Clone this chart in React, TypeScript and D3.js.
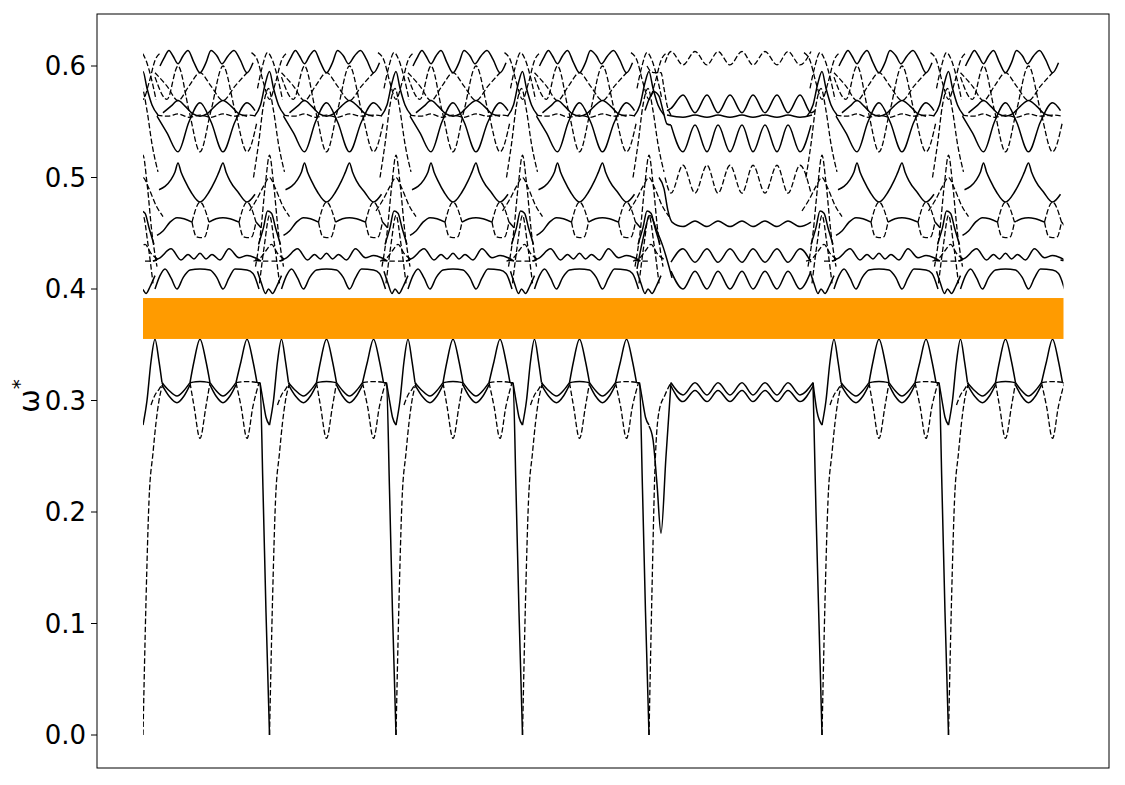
import { useEffect, useRef } from 'react';
import * as d3 from 'd3';

type Pt = [number, number];

// path segments along the wave-vector axis (same unit for every segment)
const SEG_TYPES = ['A', 'A', 'A', 'A', 'E', 'A', 'A'];
const SEG_LENGTHS = [126.5, 126.5, 126.5, 126.5, 173, 126.5, 115];

// band gap (orange)
const GAP = [0.3552, 0.3919];

const Y_TICKS = [0, 0.1, 0.2, 0.3, 0.4, 0.5, 0.6];

// repeated segment: solid strokes [offset, omega]
const A_SOLID: Pt[][] = [
  [[0, 0.278], [4, 0.3], [8, 0.335], [12, 0.355], [16, 0.335], [19, 0.316]],
  [[47, 0.316], [51, 0.335], [57, 0.355], [63, 0.335], [67, 0.316]],
  [[93, 0.316], [98, 0.335], [104, 0.355], [110, 0.335], [114, 0.316]],
  [[19, 0.316], [26, 0.309], [34, 0.304], [41, 0.309], [47, 0.316]],
  [[19, 0.314], [26, 0.304], [34, 0.298], [41, 0.304], [47, 0.314]],
  [[67, 0.316], [73, 0.309], [80, 0.304], [87, 0.309], [93, 0.316]],
  [[67, 0.314], [73, 0.304], [80, 0.298], [87, 0.304], [93, 0.314]],
  [[47, 0.316], [57, 0.317], [67, 0.316]],
  [[114, 0.316], [117, 0.316], [120, 0.22], [123, 0.11], [126.5, 0]],
  [[117, 0.316], [120, 0.3], [123, 0.285], [126.5, 0.278]],
  [[12, 0.4], [17, 0.412], [22, 0.418], [28, 0.41], [34, 0.4], [40, 0.41], [47, 0.417], [57, 0.418], [67, 0.417], [74, 0.41], [80, 0.4], [86, 0.41], [92, 0.418], [104, 0.417], [110, 0.414], [116, 0.4]],
  [[10, 0.425], [17, 0.428], [28, 0.436], [38, 0.426], [45, 0.431], [51, 0.427], [57, 0.432], [63, 0.427], [69, 0.431], [77, 0.426], [86, 0.436], [96, 0.428], [104, 0.43], [112, 0.428], [118, 0.425]],
  [[14, 0.448], [20, 0.452], [27, 0.46], [34, 0.464], [41, 0.463], [49, 0.46]],
  [[66, 0.46], [73, 0.463], [80, 0.464], [87, 0.463], [96, 0.46]],
  [[113, 0.46], [118, 0.455]],
  [[16, 0.489], [22, 0.492], [28, 0.498], [32, 0.505], [35, 0.513], [38, 0.505], [42, 0.497], [48, 0.487], [57, 0.478], [66, 0.487], [72, 0.497], [76, 0.505], [80, 0.513], [83, 0.505], [87, 0.497], [95, 0.487], [104, 0.478], [112, 0.485]],
  [[14, 0.555], [24, 0.54], [35, 0.523], [46, 0.55], [57, 0.567], [68, 0.55], [80, 0.523], [92, 0.55], [104, 0.567], [112, 0.56]],
  [[20, 0.558], [28, 0.564], [35, 0.569], [42, 0.564], [50, 0.557], [57, 0.555], [64, 0.557], [72, 0.564], [80, 0.569], [88, 0.564], [96, 0.557], [104, 0.555]],
  [[17, 0.6], [21, 0.607], [26, 0.614], [30, 0.609], [35, 0.602], [40, 0.609], [45, 0.614], [51, 0.603], [57, 0.594], [63, 0.603], [68, 0.614], [74, 0.609], [79, 0.602], [85, 0.609], [91, 0.614], [97, 0.606], [104, 0.594], [110, 0.603]],
];

// repeated segment: dashed strokes
const A_DASHED: Pt[][] = [
  [[0, 0], [3, 0.12], [6, 0.21], [10, 0.253], [13, 0.28], [16, 0.3], [20, 0.315]],
  [[8, 0.296], [12, 0.305], [16, 0.31], [20, 0.316]],
  [[47, 0.316], [51, 0.295], [57, 0.266], [63, 0.295], [67, 0.316]],
  [[93, 0.316], [98, 0.295], [104, 0.266], [110, 0.295], [116, 0.316]],
  [[93, 0.316], [104, 0.317], [116, 0.316]],
  [[49, 0.46], [51, 0.452], [53, 0.447], [57, 0.446], [62, 0.447], [64, 0.452], [66, 0.46]],
  [[49, 0.46], [57, 0.478], [66, 0.46]],
  [[96, 0.46], [98, 0.452], [100, 0.447], [104, 0.446], [109, 0.447], [111, 0.452], [113, 0.46]],
  [[96, 0.46], [104, 0.478], [113, 0.46]],
  [[12, 0.59], [24, 0.57], [35, 0.6], [46, 0.56], [57, 0.523], [68, 0.56], [80, 0.6], [92, 0.56], [104, 0.523], [114, 0.55]],
  [[12, 0.594], [24, 0.582], [35, 0.569], [46, 0.582], [57, 0.594], [68, 0.582], [80, 0.569], [92, 0.582], [104, 0.594]],
  [[14, 0.556], [25, 0.555], [35, 0.557], [46, 0.554], [57, 0.556], [68, 0.554], [80, 0.557], [92, 0.555], [104, 0.556], [114, 0.555]],
  [[2, 0.425], [8, 0.425], [14, 0.426]],
  [[112, 0.426], [120, 0.425], [126.5, 0.425]],
];

// long middle segment: solid strokes
const E_SOLID: Pt[][] = [
  [[0, 0.277], [4, 0.265], [8, 0.225], [12, 0.181], [17, 0.25], [22, 0.316]],
  [[22, 0.316], [34, 0.305], [46, 0.316], [58, 0.305], [69, 0.316], [81, 0.305], [93, 0.316], [104, 0.305], [116, 0.316], [128, 0.305], [139, 0.316], [151, 0.305], [164, 0.316]],
  [[22, 0.313], [34, 0.299], [46, 0.309], [58, 0.299], [69, 0.309], [81, 0.299], [93, 0.309], [104, 0.299], [116, 0.309], [128, 0.299], [139, 0.309], [151, 0.299], [164, 0.313]],
  [[164, 0.316], [167, 0.2], [170, 0.1], [173, 0]],
  [[164, 0.316], [168, 0.29], [173, 0.278]],
  [[22, 0.416], [34, 0.4], [46, 0.416], [58, 0.4], [69, 0.416], [81, 0.4], [93, 0.416], [104, 0.4], [116, 0.416], [128, 0.4], [139, 0.416], [151, 0.4], [162, 0.416]],
  [[22, 0.424], [34, 0.436], [46, 0.424], [58, 0.436], [69, 0.424], [81, 0.436], [93, 0.424], [104, 0.436], [116, 0.424], [128, 0.436], [139, 0.424], [151, 0.436], [162, 0.424]],
  [[-12, 0.418], [-6, 0.445], [1, 0.466], [8, 0.452], [14, 0.438], [20, 0.42], [23, 0.41]],
  [[10, 0.5], [15, 0.49], [19, 0.47], [23, 0.46], [34, 0.456], [46, 0.461], [58, 0.456], [69, 0.461], [81, 0.456], [93, 0.461], [104, 0.456], [116, 0.461], [128, 0.456], [139, 0.461], [151, 0.456], [162, 0.46]],
  [[22, 0.547], [34, 0.523], [46, 0.547], [58, 0.523], [69, 0.547], [81, 0.523], [93, 0.547], [104, 0.523], [116, 0.547], [128, 0.523], [139, 0.547], [151, 0.523], [162, 0.547]],
  [[18, 0.556], [34, 0.554], [46, 0.556], [58, 0.554], [69, 0.556], [81, 0.554], [93, 0.556], [104, 0.554], [116, 0.556], [128, 0.554], [139, 0.556], [151, 0.554], [163, 0.556]],
  [[18, 0.56], [22, 0.562], [34, 0.574], [46, 0.558], [58, 0.574], [69, 0.558], [81, 0.574], [93, 0.558], [104, 0.574], [116, 0.558], [128, 0.574], [139, 0.558], [151, 0.574], [162, 0.558], [166, 0.56]],
  [[-4, 0.56], [0, 0.57], [5, 0.577], [10, 0.573], [14, 0.56], [18, 0.548], [22, 0.547]],
];

// long middle segment: dashed strokes
const E_DASHED: Pt[][] = [
  [[0, 0], [3, 0.13], [6, 0.24], [10, 0.29], [16, 0.305], [22, 0.316]],
  [[-2, 0.6], [2, 0.595], [6, 0.594], [12, 0.594], [15, 0.58], [18, 0.565], [22, 0.556]],
  [[16, 0.603], [22, 0.613], [34, 0.601], [46, 0.613], [58, 0.601], [69, 0.613], [81, 0.601], [93, 0.613], [104, 0.601], [116, 0.613], [128, 0.601], [139, 0.613], [151, 0.601], [162, 0.613]],
  [[16, 0.5], [22, 0.486], [34, 0.511], [46, 0.486], [58, 0.511], [69, 0.486], [81, 0.511], [93, 0.486], [104, 0.511], [116, 0.486], [128, 0.511], [139, 0.486], [151, 0.511], [162, 0.486]],
];

// crossings around every segment boundary [offset from boundary, omega]
const B_SOLID: Pt[][] = [
  [[-12, 0.416], [-8, 0.405], [-4, 0.396], [-1, 0.4], [3, 0.396], [7, 0.402], [12, 0.412]],
  [[-15, 0.555], [-9, 0.565], [-4, 0.585], [0, 0.595], [4, 0.58], [9, 0.565], [15, 0.556]],
  [[-11, 0.44], [-6, 0.455], [-2, 0.47], [2, 0.468], [6, 0.455], [11, 0.44]],
];

const B_DASHED: Pt[][] = [
  [[-14, 0.42], [-9, 0.45], [-4, 0.495], [0, 0.52], [4, 0.495], [9, 0.45], [14, 0.42]],
  [[-10, 0.405], [-5, 0.44], [0, 0.466], [5, 0.44], [10, 0.405]],
  [[-16, 0.5], [-11, 0.53], [-6, 0.565], [-1, 0.58], [4, 0.56], [9, 0.53], [15, 0.505]],
  [[-18, 0.612], [-12, 0.605], [-6, 0.585], [0, 0.57], [6, 0.585], [12, 0.605], [18, 0.612]],
  [[-20, 0.47], [-13, 0.48], [-6, 0.492], [0, 0.5], [6, 0.49], [13, 0.475], [20, 0.465]],
  [[-16, 0.425], [-9, 0.428], [-3, 0.435], [2, 0.44], [8, 0.432], [16, 0.426]],
  [[-12, 0.58], [-7, 0.6], [-2, 0.612], [3, 0.605], [8, 0.59], [13, 0.57]],
];

export default function App() {
  const ref = useRef<SVGSVGElement>(null);

  useEffect(() => {
    if (!ref.current) return;
    const svg = d3.select(ref.current);
    svg.selectAll('*').remove();

    const W = 1125;
    const H = 785;
    const frame = { left: 97, top: 14, right: 1109, bottom: 768 };

    const starts: number[] = [];
    let acc = 0;
    SEG_LENGTHS.forEach(l => { starts.push(acc); acc += l; });
    const total = acc;

    const x = d3.scaleLinear().domain([0, total]).range([143, 1063.5]);
    const y = d3.scaleLinear().domain([0, 0.6]).range([735, 66]);

    svg.attr('width', W).attr('height', H);
    svg.append('rect').attr('width', W).attr('height', H).attr('fill', '#fff');

    svg.append('defs').append('clipPath').attr('id', 'plotclip')
      .append('rect')
      .attr('x', x(0)).attr('y', frame.top)
      .attr('width', x(total) - x(0)).attr('height', frame.bottom - frame.top);

    const solid: Pt[][] = [];
    const dashed: Pt[][] = [];
    const shift = (list: Pt[][], s: number, out: Pt[][]) =>
      list.forEach(st => out.push(st.map(([k, v]) => [k + s, v] as Pt)));

    starts.forEach((s, i) => {
      if (SEG_TYPES[i] === 'A') {
        shift(A_SOLID, s, solid);
        shift(A_DASHED, s, dashed);
      } else {
        shift(E_SOLID, s, solid);
        shift(E_DASHED, s, dashed);
      }
      shift(B_SOLID, s, solid);
      shift(B_DASHED, s, dashed);
    });

    const line = d3.line<Pt>()
      .x(d => x(d[0]))
      .y(d => y(d[1]))
      .curve(d3.curveMonotoneX);

    const g = svg.append('g').attr('clip-path', 'url(#plotclip)');

    g.selectAll('path.solid')
      .data(solid)
      .enter()
      .append('path')
      .attr('class', 'solid')
      .attr('d', d => line(d) || '')
      .attr('fill', 'none')
      .attr('stroke', '#000')
      .attr('stroke-width', 1.5);

    g.selectAll('path.dashed')
      .data(dashed)
      .enter()
      .append('path')
      .attr('class', 'dashed')
      .attr('d', d => line(d) || '')
      .attr('fill', 'none')
      .attr('stroke', '#000')
      .attr('stroke-width', 1.3)
      .attr('stroke-dasharray', '5.5,2.4');

    // band gap
    svg.append('rect')
      .attr('x', x(0))
      .attr('y', y(GAP[1]))
      .attr('width', x(total) - x(0))
      .attr('height', y(GAP[0]) - y(GAP[1]))
      .attr('fill', '#ff9b00');

    // frame
    svg.append('rect')
      .attr('x', frame.left)
      .attr('y', frame.top)
      .attr('width', frame.right - frame.left)
      .attr('height', frame.bottom - frame.top)
      .attr('fill', 'none')
      .attr('stroke', '#000')
      .attr('stroke-width', 1);

    // y axis ticks
    const ticks = svg.append('g');
    Y_TICKS.forEach(t => {
      ticks.append('line')
        .attr('x1', frame.left - 6).attr('x2', frame.left)
        .attr('y1', y(t)).attr('y2', y(t))
        .attr('stroke', '#000').attr('stroke-width', 1);
      ticks.append('text')
        .attr('x', frame.left - 11)
        .attr('y', y(t))
        .attr('dy', '0.36em')
        .attr('text-anchor', 'end')
        .attr('font-family', 'DejaVu Sans, sans-serif')
        .attr('font-size', 26)
        .text(t.toFixed(1));
    });

    // y label
    const lab = svg.append('text')
      .attr('transform', 'translate(39,396) rotate(-90)')
      .attr('text-anchor', 'middle')
      .attr('font-family', 'DejaVu Sans, sans-serif')
      .attr('font-size', 28);
    lab.append('tspan').text('ω');
    lab.append('tspan').attr('dy', -13).attr('font-size', 20).text('*');
  }, []);

  return (
    <div style={{ position: 'absolute', left: 0, top: 0 }}>
      <svg ref={ref} />
    </div>
  );
}
